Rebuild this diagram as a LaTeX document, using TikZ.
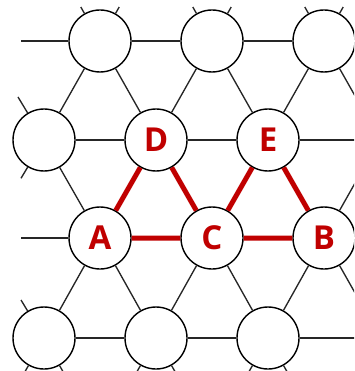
\documentclass[tikz,border=0pt]{standalone}
\usepackage{fontspec}
\setmainfont{Open Sans}
\definecolor{hred}{HTML}{C00000}
\begin{document}
\begin{tikzpicture}[x=1pt,y=-1pt,
  site/.style={circle,draw=black,line width=1.4pt,fill=white,minimum size=62pt,inner sep=0pt,
    font=\fontsize{33}{33}\selectfont\bfseries,text=hred},
  edge/.style={line width=1.35pt,draw=black!85},
  hot/.style={line width=5pt,draw=hred}]
\useasboundingbox (0,0) rectangle (354,371);
\clip (0,0) rectangle (354,371);
% sites
\node[site] (T1) at (100,41) {};
\node[site] (T2) at (212,41) {};
\node[site] (T3) at (324,41) {};
\node[site] (L1) at (44,140) {};
\node[site] (D) at (156,140) {D};
\node[site] (E) at (268,140) {E};
\node[site] (A) at (100,238) {A};
\node[site] (C) at (212,238) {C};
\node[site] (B) at (324,238) {B};
\node[site] (L3) at (44,338) {};
\node[site] (M3) at (156,338) {};
\node[site] (R3) at (268,338) {};
% free ends
\coordinate (t1l) at (21,41);
\coordinate (t1a) at (80.8,7);  \coordinate (t1b) at (119.2,7);
\coordinate (t2a) at (192.8,7); \coordinate (t2b) at (231.2,7);
\coordinate (t3a) at (304.8,7); \coordinate (t3b) at (343.2,7);
\coordinate (t3c) at (360.9,106.3);
\coordinate (l1a) at (18,97);   \coordinate (l1b) at (21,178.3);
\coordinate (er) at (360,140);
\coordinate (al) at (21,238);
\coordinate (ba) at (360.9,172.7); \coordinate (bb) at (360.9,303.3);
\coordinate (l3a) at (21,300);
\coordinate (l3b) at (7.1,403.3);   \coordinate (l3c) at (80.9,403.3);
\coordinate (m3b) at (119.1,403.3); \coordinate (m3c) at (192.9,403.3);
\coordinate (r3b) at (231.1,403.3); \coordinate (r3c) at (304.9,403.3);
\coordinate (r3r) at (360,338);
% black edges
\draw[edge] (t1l) -- (T1) (T1) -- (T2) (T2) -- (T3);
\draw[edge] (T1) -- (t1a) (T1) -- (t1b) (T2) -- (t2a) (T2) -- (t2b) (T3) -- (t3a) (T3) -- (t3b);
\draw[edge] (T1) -- (L1) (T1) -- (D) (T2) -- (D) (T2) -- (E) (T3) -- (E) (T3) -- (t3c);
\draw[edge] (L1) -- (D) (D) -- (E) (E) -- (er);
\draw[edge] (L1) -- (l1a) (L1) -- (l1b) (L1) -- (A);
\draw[edge] (al) -- (A);
\draw[edge] (B) -- (ba) (B) -- (bb);
\draw[edge] (A) -- (L3) (A) -- (M3) (C) -- (M3) (C) -- (R3) (B) -- (R3);
\draw[edge] (L3) -- (M3) (M3) -- (R3) (R3) -- (r3r);
\draw[edge] (L3) -- (l3a) (L3) -- (l3b) (L3) -- (l3c) (M3) -- (m3b) (M3) -- (m3c) (R3) -- (r3b) (R3) -- (r3c);
% red path
\draw[hot] (A) -- (D) (D) -- (C) (C) -- (E) (E) -- (B) (A) -- (C) (C) -- (B);
\end{tikzpicture}
\end{document}
